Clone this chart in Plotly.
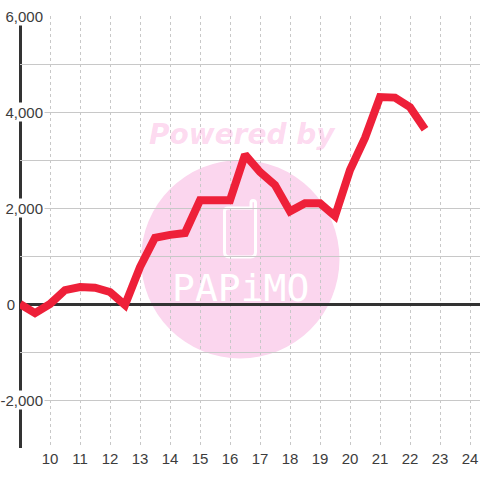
import plotly.graph_objects as go

x_values = [9, 9.5, 10, 10.5, 11, 11.5, 12, 12.5, 13, 13.5, 14, 14.5, 15, 15.5, 16, 16.5,
            17, 17.5, 18, 18.5, 19, 19.5, 20, 20.5, 21, 21.5, 22, 22.5]
y_values = [0, -190, 0, 290, 355, 340, 250, -20, 770, 1380, 1440, 1480, 2160, 2160, 2160, 3110,
            2750, 2480, 1930, 2100, 2100, 1830, 2790, 3460, 4310, 4300, 4100, 3640]
x_ticks = list(range(10, 25))
y_grid = [-3000, -2000, -1000, 0, 1000, 2000, 3000, 4000, 5000, 6000]
y_label_vals = [6000, 4000, 2000, 0, -2000]
y_label_text = ["6,000", "4,000", "2,000", "0", "-2,000"]

W, H = 480, 480
L, R, T, B = 20, 0, 16, 32
TEXT = "#3c3c3c"
GRID = "#c8c8c8"
DARK = "#333333"
PINK = "#fbd6ee"


def px(v):
    return (v - L) / (W - L - R)


def py(v):
    return 1 - (v - T) / (H - T - B)


fig = go.Figure()
fig.add_trace(go.Scatter(
    x=x_values, y=y_values, mode="lines", cliponaxis=False,
    line=dict(color="#ee2039", width=8, shape="linear"),
    hoverinfo="skip", showlegend=False,
))

shapes = [
    dict(type="circle", xref="paper", yref="paper", layer="below",
         x0=px(141), x1=px(339.5), y0=py(160), y1=py(358.5),
         fillcolor=PINK, line=dict(width=0)),
    dict(type="path", xref="paper", yref="paper", layer="below",
         path=(f"M {px(228)} {py(208)} L {px(251)} {py(208)} "
               f"L {px(251)} {py(203)} Q {px(251)} {py(200.5)} {px(253)} {py(200.5)} "
               f"Q {px(255.5)} {py(200.5)} {px(255.5)} {py(203)} "
               f"L {px(255.5)} {py(252)} Q {px(255.5)} {py(257)} {px(250.5)} {py(257)} "
               f"L {px(229.5)} {py(257)} Q {px(224.5)} {py(257)} {px(224.5)} {py(252)} "
               f"L {px(224.5)} {py(211.5)} Q {px(224.5)} {py(208)} {px(228)} {py(208)} Z"),
         fillcolor="rgba(0,0,0,0)", line=dict(color="#ffffff", width=3)),
    dict(type="line", xref="paper", yref="paper", layer="between",
         x0=px(20.5), x1=px(20.5), y0=0, y1=1,
         line=dict(color=DARK, width=3)),
]

annotations = [
    dict(text="<b><i>Powered by</i></b>", xref="paper", yref="paper", x=px(242), y=py(134),
         xanchor="center", yanchor="middle", showarrow=False,
         font=dict(family="DejaVu Sans", size=28, color="rgba(248,130,205,0.3)")),
    dict(text="PAPiMO", xref="paper", yref="paper", x=px(240), y=py(288),
         xanchor="center", yanchor="middle", showarrow=False,
         font=dict(family="DejaVu Sans Mono", size=38, color="#ffffff")),
]
for val, lab in zip(y_label_vals, y_label_text):
    right = 17 if val == 0 else 45
    annotations.append(dict(
        text=lab, xref="paper", yref="y", x=px(right), y=val,
        xanchor="right", yanchor="middle", align="right", showarrow=False,
        width=right - 2, height=16, borderpad=1, bgcolor="#ffffff",
        font=dict(family="Liberation Sans", size=15, color=TEXT),
    ))

fig.update_layout(
    width=W, height=H, margin=dict(l=L, r=R, t=T, b=B, pad=0),
    paper_bgcolor="#ffffff", plot_bgcolor="rgba(0,0,0,0)",
    showlegend=False, shapes=shapes, annotations=annotations,
    font=dict(family="Liberation Sans", size=15, color=TEXT),
    xaxis=dict(range=[9, 9 + (W - L - R) / 30], tickmode="array", tickvals=x_ticks,
               ticks="", showline=False, zeroline=False, showgrid=True,
               gridcolor=GRID, gridwidth=1, griddash="3px,3px",
               tickfont=dict(family="Liberation Sans", size=15, color=TEXT),
               tickangle=0, layer="below traces"),
    yaxis=dict(range=[-3000, 6000], tickmode="array", tickvals=y_grid,
               showticklabels=False, ticks="", showgrid=True,
               gridcolor=GRID, gridwidth=1, griddash="solid",
               showline=False,
               zeroline=True, zerolinecolor=DARK, zerolinewidth=3,
               layer="below traces"),
)

fig.write_html("out.html", config=dict(displayModeBar=False, staticPlot=True),
               post_script="document.body.style.margin='0';document.body.style.overflow='hidden';")
